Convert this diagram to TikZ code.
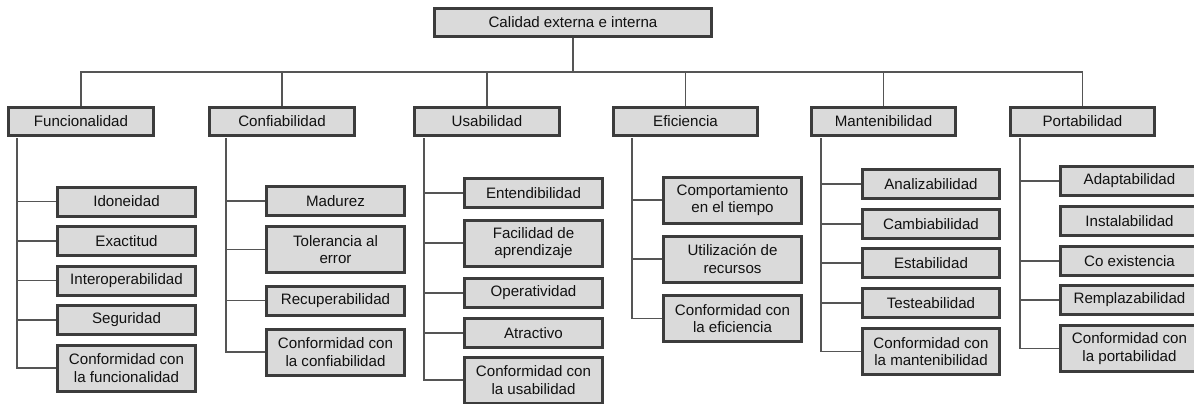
\documentclass[tikz,border=0pt]{standalone}
\usepackage{fontspec}
\setmainfont{Liberation Sans}
\definecolor{boxgray}{HTML}{3C3C3C}
\definecolor{fillgray}{HTML}{DADADA}
\definecolor{linegray}{HTML}{555555}
\definecolor{textgray}{HTML}{111111}
\begin{document}
\begin{tikzpicture}[x=0.02cm, y=-0.02cm,
  cbox/.style={draw=boxgray, line width=0.06cm, fill=fillgray, text=textgray, align=center, inner sep=0pt, font=\fontsize{8.6}{9.8}\selectfont},
  rootbox/.style={cbox, minimum width=5.54cm, minimum height=0.56cm},
  charbox/.style={cbox, minimum width=2.9cm, minimum height=0.56cm},
  subbox/.style={cbox, minimum width=2.76cm, minimum height=0.58cm},
  subtwo/.style={subbox, minimum height=0.92cm},
  link/.style={draw=linegray, line width=0.035cm}]
\useasboundingbox (0,0) rectangle (1194,403);

\node[rootbox] (q0) at (573,22.5){Calidad externa e interna};
\coordinate (bus) at (573,72);

\node[charbox] (q1) at (81,121.5){Funcionalidad};
\node[charbox] (q2) at (282,121.5){Confiabilidad};
\node[charbox] (q3) at (487,121.5){Usabilidad};
\node[charbox] (q4) at (685.5,121.5){Eficiencia};
\node[charbox] (q5) at (883.5,121.5){Mantenibilidad};
\node[charbox] (q6) at (1082.5,121.5){Portabilidad};

\draw[link](q0.south) -- (bus);
\draw[link](q1.north) |- (bus);
\draw[link](q2.north) |- (bus);
\draw[link](q3.north) |- (bus);
\draw[link](q4.north) |- (bus);
\draw[link](q5.north) |- (bus);
\draw[link](q6.north) |- (bus);

\node[subbox] (q11) at (126.5,201.5){Idoneidad};
\node[subbox] (q12) at (126.5,241){Exactitud};
\node[subbox] (q13) at (126.5,280.5){Interoperabilidad};
\node[subbox] (q14) at (126.5,320){Seguridad};
\node[subtwo] (q15) at (126.5,368){Conformidad con\\la funcionalidad};

\coordinate (t1) at (17,138);
\draw[link](t1) |- (q11.west);
\draw[link](t1) |- (q12.west);
\draw[link](t1) |- (q13.west);
\draw[link](t1) |- (q14.west);
\draw[link](t1) |- (q15.west);

\node[subbox] (q21) at (335.5,201){Madurez};
\node[subtwo] (q22) at (335.5,249.5){Tolerancia al\\error};
\node[subbox] (q23) at (335.5,300.5){Recuperabilidad};
\node[subtwo] (q24) at (335.5,352){Conformidad con\\la confiabilidad};

\coordinate (t2) at (226,138);
\draw[link](t2) |- (q21.west);
\draw[link](t2) |- (q22.west);
\draw[link](t2) |- (q23.west);
\draw[link](t2) |- (q24.west);

\node[subbox] (q31) at (533.5,193){Entendibilidad};
\node[subtwo] (q32) at (533.5,243){Facilidad de\\aprendizaje};
\node[subbox] (q33) at (533.5,293){Operatividad};
\node[subbox] (q34) at (533.5,333){Atractivo};
\node[subtwo] (q35) at (533.5,380){Conformidad con\\la usabilidad};

\coordinate (t3) at (424,138);
\draw[link](t3) |- (q31.west);
\draw[link](t3) |- (q32.west);
\draw[link](t3) |- (q33.west);
\draw[link](t3) |- (q34.west);
\draw[link](t3) |- (q35.west);

\node[subtwo] (q41) at (732.5,200){Comportamiento\\en el tiempo};
\node[subtwo] (q42) at (732.5,259){Utilización de\\recursos};
\node[subtwo] (q43) at (732.5,318.5){Conformidad con\\la eficiencia};

\coordinate (t4) at (632,138);
\draw[link](t4) |- (q41.west);
\draw[link](t4) |- (q42.west);
\draw[link](t4) |- (q43.west);

\node[subbox] (q51) at (931,184){Analizabilidad};
\node[subbox] (q52) at (931,224){Cambiabilidad};
\node[subbox] (q53) at (931,263){Estabilidad};
\node[subbox] (q54) at (931,303){Testeabilidad};
\node[subtwo] (q55) at (931,351.5){Conformidad con\\la mantenibilidad};

\coordinate (t5) at (821,138);
\draw[link](t5) |- (q51.west);
\draw[link](t5) |- (q52.west);
\draw[link](t5) |- (q53.west);
\draw[link](t5) |- (q54.west);
\draw[link](t5) |- (q55.west);

\node[subbox] (q61) at (1129.5,181){Adaptabilidad};
\node[subbox] (q62) at (1129.5,221){Instalabilidad};
\node[subbox] (q63) at (1129.5,261){Co existencia};
\node[subbox] (q64) at (1129.5,300){Remplazabilidad};
\node[subtwo] (q65) at (1129.5,348.5){Conformidad con\\la portabilidad};

\coordinate (t6) at (1020,138);
\draw[link](t6) |- (q61.west);
\draw[link](t6) |- (q63.west);
\draw[link](t6) |- (q64.west);
\draw[link](t6) |- (q65.west);

\end{tikzpicture}
\end{document}
